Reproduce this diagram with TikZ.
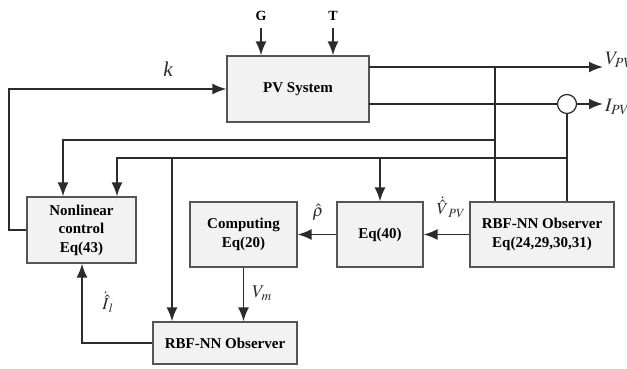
\documentclass[tikz,border=0pt]{standalone}
\usepackage{mathptmx}
\usepackage{fontspec}
\setmainfont{Liberation Serif}
\usetikzlibrary{arrows.meta}
\definecolor{boxfill}{HTML}{F2F2F2}
\definecolor{linec}{HTML}{2B2B2B}
\definecolor{boxline}{HTML}{555555}
\tikzset{
  blk/.style={draw=boxline, line width=1.2pt, fill=boxfill, inner sep=0pt, align=center,
    font=\fontsize{15}{18.5}\selectfont\bfseries},
  wire/.style={draw=linec, line width=1.8pt},
  arr/.style={wire, -{Latex[length=14pt,width=11pt]}},
  lbl/.style={inner sep=0pt, text=linec},
  inlbl/.style={inner sep=0pt, font=\fontsize{14}{16}\selectfont\bfseries}
}
\begin{document}
\begin{tikzpicture}[x=1pt,y=-1pt]
\useasboundingbox[fill=white] (0,0) rectangle (627,369);
% blocks
\node[blk, minimum width=142pt, minimum height=66pt] (pv) at (298,89) {PV System};
\node[blk, minimum width=109pt, minimum height=66pt] (nl) at (81.5,230) {Nonlinear\\control\\Eq(43)};
\node[blk, minimum width=107pt, minimum height=65pt] (comp) at (243.5,234.5) {Computing\\Eq(20)};
\node[blk, minimum width=86pt, minimum height=65pt] (eq40) at (380,234.5) {Eq(40)};
\node[blk, minimum width=144pt, minimum height=65pt] (rbfa) at (542,234.5) {RBF-NN Observer\\Eq(24,29,30,31)};
\node[blk, minimum width=144pt, minimum height=42pt] (rbfb) at (225,343) {RBF-NN Observer};
% inputs G, T
\node[inlbl] (g) at (261,16) {G};
\node[inlbl] (t) at (333,16) {T};
\draw[arr] (g.south |- 0,28) -- (g.south |- pv.north);
\draw[arr] (t.south |- 0,28) -- (t.south |- pv.north);
% k feedback
\coordinate (kl) at (9,230);
\draw[arr] (nl.west) -- (kl) |- (pv.west);
\node[lbl, font=\fontsize{21}{21}\selectfont\itshape] (k) at (168,69) {k};
% outputs
\coordinate (vpvs) at (369,67);
\coordinate (vpve) at (603,67);
\draw[arr] (vpvs) -- (vpve);
\node[lbl, anchor=west, font=\fontsize{19}{19}\selectfont] (vpv) at (605,60) {$V_{PV}$};
\node[draw=linec, line width=1.2pt, circle, minimum size=19pt, inner sep=0pt] (cs) at (567,104) {};
\coordinate (ipvs) at (369,104);
\coordinate (ipve) at (603,104);
\draw[wire] (ipvs) -- (cs.west);
\draw[arr] (cs.east) -- (ipve);
\node[lbl, anchor=west, font=\fontsize{19}{19}\selectfont] (ipv) at (605,107) {$I_{PV}$};
% measurement buses
\coordinate (jv) at (495,67);
\coordinate (jv1) at (495,140);
\coordinate (ji1) at (567,158);
\draw[wire] (jv) -- (jv |- rbfa.north);
\draw[wire] (cs.south) -- (cs.south |- rbfa.north);
\draw[arr] (jv1) -| (63,0 |- nl.north);
\draw[arr] (ji1) -| (117,0 |- nl.north);
\coordinate (b1) at (172,158);
\coordinate (b2) at (380,158);
\draw[arr] (b1) -- (b1 |- rbfb.north);
\draw[arr] (b2) -- (eq40.north);
% internal signal chain
\draw[arr] (rbfa.west) -- (eq40.east);
\node[lbl, font=\fontsize{17}{17}\selectfont] (vhat) at (451,207) {$\dot{\hat{V}}_{PV}$};
\draw[arr] (eq40.west) -- (comp.east);
\node[lbl, font=\fontsize{17}{17}\selectfont] (rho) at (318,212) {$\hat{\rho}$};
\draw[arr] (comp.south) -- (comp.south |- rbfb.north);
\node[lbl, font=\fontsize{18}{18}\selectfont] (vm) at (262,293) {$V_m$};
\coordinate (il) at (82,343);
\draw[arr] (rbfb.west) -- (il) -- (il |- nl.south);
\node[lbl, font=\fontsize{17}{17}\selectfont] (ihat) at (108,302) {$\dot{\hat{I}}_l$};
\end{tikzpicture}
\end{document}
